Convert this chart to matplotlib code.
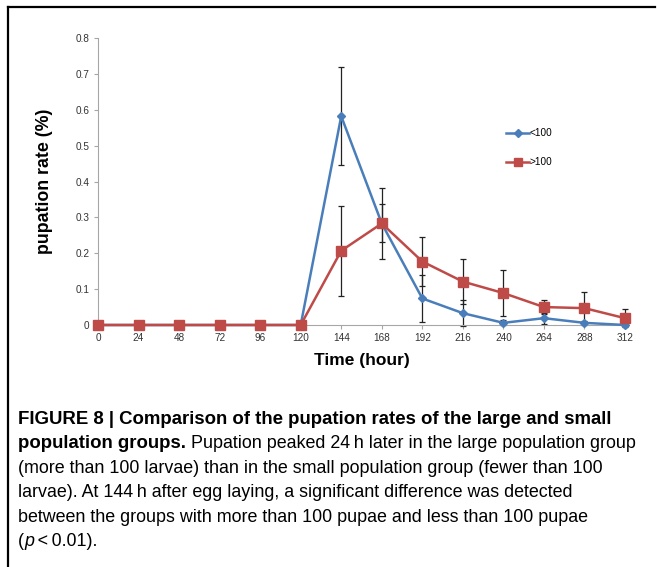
import matplotlib
matplotlib.use('Agg')
import matplotlib.pyplot as plt
from matplotlib.lines import Line2D

hours = [0, 24, 48, 72, 96, 120, 144, 168, 192, 216, 240, 264, 288, 312]
small = [0, 0, 0, 0, 0, 0, 0.582, 0.283, 0.074, 0.033, 0.006, 0.019, 0.006, 0.0]
small_err = [0, 0, 0, 0, 0, 0, 0.136, 0.053, 0.065, 0.036, 0.007, 0.015, 0.006, 0.0]
large = [0, 0, 0, 0, 0, 0, 0.207, 0.283, 0.177, 0.121, 0.089, 0.050, 0.047, 0.019]
large_err = [0, 0, 0, 0, 0, 0, 0.126, 0.099, 0.067, 0.062, 0.064, 0.019, 0.044, 0.025]
yticks = [0, 0.1, 0.2, 0.3, 0.4, 0.5, 0.6, 0.7, 0.8]
ytick_labels = ['0', '0.1', '0.2', '0.3', '0.4', '0.5', '0.6', '0.7', '0.8']

caption = [
    [("FIGURE 8 | Comparison of the pupation rates of the large and small", 'bold', 'normal')],
    [("population groups.", 'bold', 'normal'),
     ("Pupation peaked 24\u2009h later in the large population group", 'normal', 'normal')],
    [("(more than 100 larvae) than in the small population group (fewer than 100", 'normal', 'normal')],
    [("larvae). At 144\u2009h after egg laying, a significant difference was detected", 'normal', 'normal')],
    [("between the groups with more than 100 pupae and less than 100 pupae", 'normal', 'normal')],
    [("(", 'normal', 'normal'), ("p", 'normal', 'italic'), ("\u2009<\u20090.01).", 'normal', 'normal')],
]

BLUE = '#4a7ebb'
RED = '#be4b48'
W, H = 657, 567

plt.rcParams['font.family'] = ['Liberation Sans', 'DejaVu Sans']
fig = plt.figure(figsize=(W / 100, H / 100), dpi=100)
ax = fig.add_axes([98 / W, 1 - 325 / H, 527 / W, 287 / H])

ax.errorbar(hours, small, yerr=small_err, fmt='none', ecolor='#222222',
            elinewidth=0.9, capsize=2.5, capthick=0.9, zorder=2, clip_on=False)
ax.errorbar(hours, large, yerr=large_err, fmt='none', ecolor='#222222',
            elinewidth=0.9, capsize=2.5, capthick=0.9, zorder=2, clip_on=False)
l1, = ax.plot(hours, small, color=BLUE, lw=1.8, marker='D', ms=4.5,
              label='<100', zorder=3, clip_on=False)
l2, = ax.plot(hours, large, color=RED, lw=1.8, marker='s', ms=6.5,
              label='>100', zorder=4, clip_on=False)

ax.set_xlim(0, 312)
ax.set_ylim(0, 0.8)
ax.set_xticks(hours)
ax.set_xticklabels([str(h) for h in hours])
ax.set_yticks(yticks)
ax.set_yticklabels(ytick_labels)
for s in ['top', 'right']:
    ax.spines[s].set_visible(False)
for s in ['left', 'bottom']:
    ax.spines[s].set_color('#a6a6a6')
    ax.spines[s].set_linewidth(0.8)
ax.tick_params(axis='both', colors='#a6a6a6', labelcolor='#333333',
               labelsize=7.2, length=3, width=0.8, pad=3)

ax.set_xlabel('Time (hour)', fontsize=12.5, fontweight='bold', labelpad=7)
ax.set_ylabel('pupation rate (%)', fontsize=12.8, fontweight='bold', labelpad=16)

ax.legend(handles=[l1, l2], loc='upper left', frameon=False,
          bbox_to_anchor=(497 / W, 1 - 119 / H), bbox_transform=fig.transFigure,
          fontsize=7.2, handlelength=2.3, handletextpad=0.05, labelspacing=1.9,
          markerscale=0.9)

# page frame
fig.add_artist(Line2D([8 / W, 655 / W], [1 - 7 / H, 1 - 7 / H], color='black', lw=1.6))
fig.add_artist(Line2D([8 / W, 8 / W], [1 - 7 / H, 0], color='black', lw=1.6))

# caption with mixed weights
fig.canvas.draw()
rend = fig.canvas.get_renderer()
bold_size = 13.4
reg_size = 12.9


def size_for(weight):
    return bold_size if weight == 'bold' else reg_size


def text_width(s, weight, style):
    t = fig.text(0, 0, s, fontsize=size_for(weight), weight=weight, style=style)
    w = t.get_window_extent(rend).width
    t.remove()
    return w


space = text_width('a a', 'normal', 'normal') - text_width('aa', 'normal', 'normal')
y0 = 424
for i, line in enumerate(caption):
    x = 18
    for j, (s, weight, style) in enumerate(line):
        t = fig.text(x / W, 1 - (y0 + i * 24.4) / H, s, fontsize=size_for(weight),
                     weight=weight, style=style, va='baseline', color='black')
        x += t.get_window_extent(rend).width
        if j == 0 and len(line) > 1 and s.endswith('.'):
            x += space

fig.savefig('out.png', dpi=100)
